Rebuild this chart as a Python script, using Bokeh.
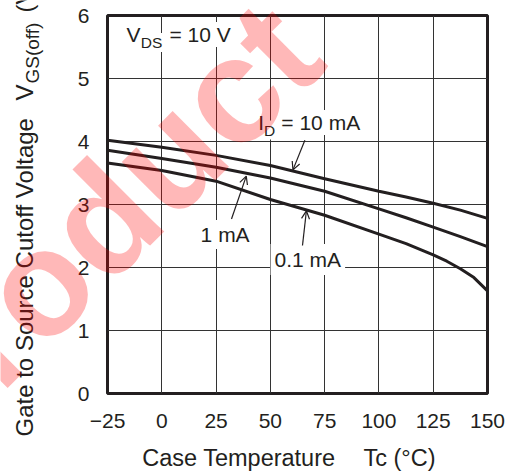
import math
from bokeh.plotting import figure
from bokeh.models import Range1d, FixedTicker, Label, Arrow, OpenHead, GridBox, Column
from bokeh.embed import file_html
from bokeh.resources import INLINE

# ---- data ----
temps = [-25, 0, 25, 50, 75, 100, 112.5, 125, 137.5, 150]
vgs_10mA = [4.02, 3.91, 3.78, 3.62, 3.41, 3.21, 3.12, 3.02, 2.91, 2.78]
vgs_1mA = [3.86, 3.73, 3.59, 3.42, 3.21, 2.93, 2.79, 2.64, 2.49, 2.33]
temps_01mA = [-25, 0, 25, 50, 75, 100, 112.5, 125, 131.25, 137.5, 143.75, 150]
vgs_01mA = [3.66, 3.54, 3.37, 3.08, 2.83, 2.53, 2.38, 2.20, 2.10, 1.98, 1.84, 1.63]
x_ticks = [-25, 0, 25, 50, 75, 100, 125, 150]
x_tick_labels = ["\u221225", "0", "25", "50", "75", "100", "125", "150"]
y_ticks = [0, 1, 2, 3, 4, 5, 6]

INK = "#231f20"
FONT = "Liberation Sans"
W, H = 510, 474

p = figure(width=W, height=H, x_range=Range1d(-25, 150), y_range=Range1d(0, 6),
           output_backend="svg", toolbar_location=None,
           min_border_left=107, min_border_right=23, min_border_top=15, min_border_bottom=81)
p.background_fill_color = "white"
p.border_fill_color = "white"
p.outline_line_color = INK
p.outline_line_width = 3

for ax in (p.xaxis[0], p.yaxis[0]):
    ax.axis_line_color = None
    ax.major_tick_line_color = None
    ax.minor_tick_line_color = None
    ax.major_label_text_font = FONT
    ax.major_label_text_font_size = "21px"
    ax.major_label_text_color = INK

p.xaxis.ticker = FixedTicker(ticks=x_ticks)
p.xaxis.major_label_overrides = {t: l for t, l in zip(x_ticks, x_tick_labels)}
p.xaxis.major_label_standoff = 14
p.yaxis.ticker = FixedTicker(ticks=y_ticks)
p.yaxis.major_label_standoff = 12

p.xgrid.ticker = FixedTicker(ticks=x_ticks)
p.ygrid.ticker = FixedTicker(ticks=y_ticks)
for g in (p.xgrid[0], p.ygrid[0]):
    g.grid_line_color = "#333333"
    g.grid_line_width = 1

p.line(temps, vgs_10mA, line_width=3, line_color=INK, line_join="round")
p.line(temps, vgs_1mA, line_width=3, line_color=INK, line_join="round")
p.line(temps_01mA, vgs_01mA, line_width=3, line_color=INK, line_join="round")


def lab(fig, x, y, text, size, angle=0, bg=False, pad=1):
    kw = dict(x=x, y=y, text=text, text_font=FONT, text_font_size=f"{size}px",
              text_color=INK, text_align="left", text_baseline="alphabetic", angle=angle)
    if bg:
        kw.update(background_fill_color="white", background_fill_alpha=1.0, padding=pad)
    l = Label(**kw)
    fig.add_layout(l)
    return l

# in-plot annotations (data units); main pieces first, subscripts last
lab(p, -16.7, 5.698, "V", 21, bg=True)
lab(p, 3.1, 5.698, "= 10 V", 21, bg=True)
lab(p, 44.0, 4.302, "I", 21, bg=True)
lab(p, 54.6, 4.302, "= 10 mA", 21, bg=True)
lab(p, 16.5, 2.524, "1 mA", 21, bg=True, pad=3)
lab(p, 50.1, 2.127, "0.1 mA", 21, bg=True, pad=4)
lab(p, -10.1, 5.571, "DS", 15.5, bg=True)
lab(p, 46.6, 4.182, "D", 15.5, bg=True)

for xs, ys, xe, ye in [(65.9, 4.02, 60.4, 3.55), (32.1, 2.77, 38.9, 3.45), (64.8, 2.35, 66.6, 2.90)]:
    p.add_layout(Arrow(end=OpenHead(size=8, line_width=1.2, line_color=INK),
                       x_start=xs, y_start=ys, x_end=xe, y_end=ye,
                       line_width=1.2, line_color=INK))

# transparent overlay figure (pixel coordinates, y downwards) for outer titles + watermark
ov = figure(width=W, height=H, x_range=Range1d(0, W), y_range=Range1d(H, 0),
            output_backend="svg", toolbar_location=None, x_axis_type=None, y_axis_type=None,
            min_border=0, min_border_left=0, min_border_right=0, min_border_top=0, min_border_bottom=0)
ov.background_fill_alpha = 0
ov.border_fill_alpha = 0
ov.outline_line_color = None
ov.grid.visible = False

ang = math.pi / 2
lab(ov, 24, 436, "Gate to Source Cutoff Voltage", 24, angle=ang)
lab(ov, 24, 100, "V", 24, angle=ang)
lab(ov, 32, 83, "GS(off)", 19, angle=ang)
lab(ov, 24, 12, "(V)", 24, angle=ang)

lab(ov, 141.7, 457, "Case Temperature", 23.5)
lab(ov, 363, 457, "Tc (\u00b0C)", 23.5)

wm = Label(x=-107.7, y=428.9, text="Product", text_font=FONT, text_font_style="bold",
           text_font_size="150px", text_color="#ff0000", text_alpha=0.28,
           angle=math.pi / 4, text_align="left", text_baseline="alphabetic")
ov.add_layout(wm)

layout = GridBox(children=[(p, 0, 0), (Column(children=[ov]), 0, 0)])
open("out.html", "w").write(file_html(layout, INLINE))
